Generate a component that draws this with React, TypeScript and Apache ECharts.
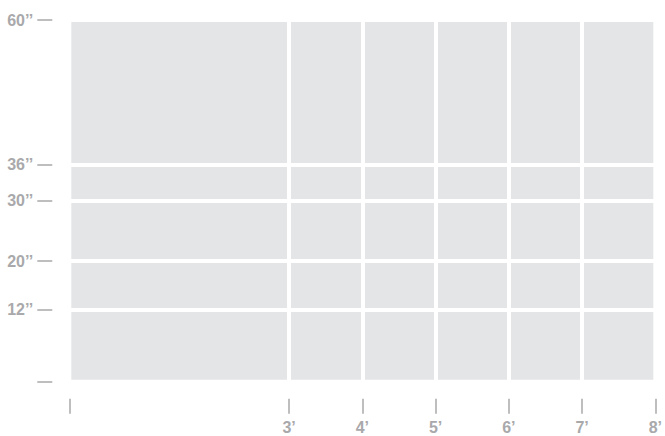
import React, { useEffect, useRef } from "react";
import * as echarts from "echarts";

const xTicks = [0, 3, 4, 5, 6, 7, 8];
const xLabels = [3, 4, 5, 6, 7, 8];
const yTicks = [0, 12, 20, 30, 36, 60];
const yLabels = [12, 20, 30, 36, 60];
const gridX = [3, 4, 5, 6, 7];
const gridY = [12, 20, 30, 36];

const INK = "#a9a9ab";
const FONT = "'Liberation Sans', Arial, Helvetica, sans-serif";

export default function App() {
  const ref = useRef<HTMLDivElement>(null);
  useEffect(() => {
    if (!ref.current) return;
    const chart = echarts.init(ref.current, undefined, { renderer: "svg" });
    chart.setOption({
      animation: false,
      grid: {
        left: 69.3,
        right: 4.3,
        top: 20,
        bottom: 54.3,
        show: true,
        backgroundColor: "#e4e5e7",
        borderColor: "#ffffff",
        borderWidth: 4,
        containLabel: false,
      },
      xAxis: {
        type: "value",
        min: 0,
        max: 8,
        axisLine: { show: false },
        splitLine: { show: false },
        axisTick: {
          show: true,
          length: 32,
          customValues: xTicks,
          lineStyle: { color: INK, width: 1.5, type: [0, 17, 15, 1000], cap: "butt" },
        },
        axisLabel: {
          customValues: xLabels,
          formatter: (v: number) => (v === 0 ? "" : v + "\u2019"),
          margin: 38,
          color: INK,
          fontWeight: "bold",
          fontSize: 16,
          fontFamily: FONT,
        },
      },
      yAxis: {
        type: "value",
        min: 0,
        max: 60,
        axisLine: { show: false },
        splitLine: { show: false },
        axisTick: {
          show: true,
          length: 32,
          customValues: yTicks,
          lineStyle: { color: INK, width: 1.5, type: [0, 17, 15, 1000], cap: "butt" },
        },
        axisLabel: {
          customValues: yLabels,
          formatter: (v: number) => (v === 0 ? "" : v + "\u2019\u2019"),
          margin: 36,
          color: INK,
          fontWeight: "bold",
          fontSize: 16,
          fontFamily: FONT,
        },
      },
      series: [
        {
          type: "line",
          data: [],
          silent: true,
          markLine: {
            silent: true,
            symbol: ["none", "none"],
            label: { show: false },
            lineStyle: { color: "#ffffff", width: 4, type: "solid" },
            emphasis: { disabled: true },
            data: [
              ...gridX.map((v) => ({ xAxis: v })),
              ...gridY.map((v) => ({ yAxis: v })),
            ],
          },
        },
      ],
    });
    return () => chart.dispose();
  }, []);
  return (
    <div
      ref={ref}
      style={{ position: "fixed", left: 0, top: 0, width: 665, height: 436, background: "#fff" }}
    />
  );
}
